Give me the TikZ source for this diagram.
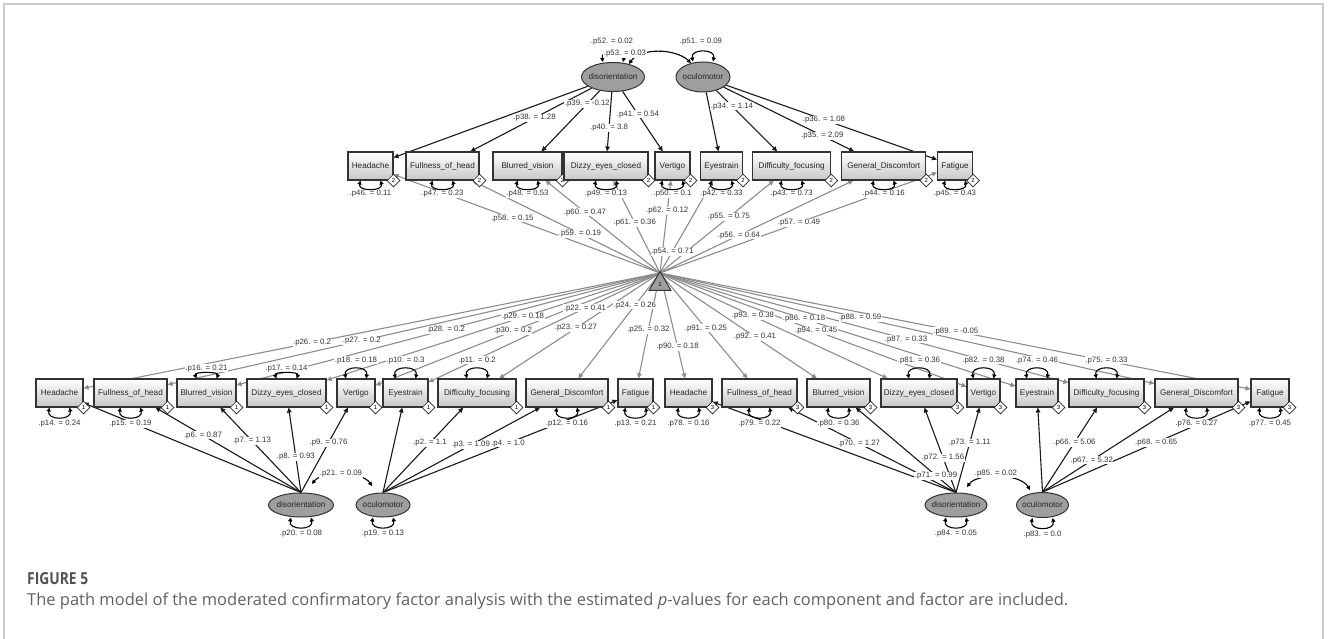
\documentclass[tikz,border=0pt]{standalone}
\usepackage{fontspec}
\usepackage{graphicx}
\setmainfont{Liberation Sans}
\newfontfamily\capfont{Open Sans}
\usetikzlibrary{shapes.geometric,arrows.meta,calc}
\pgfdeclarelayer{bg}
\pgfsetlayers{bg,main}
\newcommand\boxfnt{\fontsize{8.2}{9}\selectfont}
\newcommand\lblfnt{\fontsize{7.8}{9}\selectfont}
\newcommand\dmfnt{\fontsize{6}{7}\selectfont}
\newcommand\obsbox[6]{\node[mbox,minimum width=#4pt] (#1) at (#2,#3) {#5};\node[diam] (#1d) at (#1.south east) {#6};}
\newcommand\loopdn[2]{\draw[varloop] ([xshift=-10pt]#1.south) .. controls +(-3,#2) and +(3,#2) .. ([xshift=10pt]#1.south);}
\newcommand\loopup[2]{\draw[varloop] ([xshift=-10pt]#1.north) .. controls +(-3,-#2) and +(3,-#2) .. ([xshift=10pt]#1.north);}
\tikzset{
  mbox/.style={draw=black!80, line width=1.1pt, top color=white, bottom color=black!22, minimum height=28pt, inner sep=0pt, font=\boxfnt, text=black!85},
  diam/.style={diamond, draw=black!85, fill=white, line width=0.7pt, minimum width=13pt, minimum height=13pt, inner sep=0pt, font=\dmfnt},
  lat/.style={ellipse, draw=black!80, fill=black!38, line width=1pt, inner xsep=-8pt, inner ysep=0pt, font=\boxfnt, text=black!85},
  tri/.style={regular polygon, regular polygon sides=3, draw=black!80, fill=black!38, line width=1pt, inner sep=0pt, minimum size=25pt, font=\dmfnt},
  load/.style={draw=black!90, line width=1.1pt, -{Triangle[length=5pt,width=4.5pt]}},
  icpt/.style={draw=black!45, line width=1.1pt, -{Triangle[length=5pt,width=4.5pt]}},
  varloop/.style={draw=black, line width=1.1pt, {Triangle[length=4pt,width=4pt]}-{Triangle[length=4pt,width=4pt]}},
  lbl/.style={fill=white, inner sep=0.5pt, font=\lblfnt, text=black!80},
  frame/.style={draw=black!20, line width=1.5pt},
}
\begin{document}
\begin{tikzpicture}[x=1pt,y=-1pt]
\useasboundingbox (0,0) rectangle (1328,639);
\draw[frame] (4,639) -- (4,4) -- (1323,4) -- (1323,639);

% observed variables, top group
\obsbox{T1}{370.5}{166}{45}{Headache}{2}
\obsbox{T2}{442.5}{166}{73}{Fullness\_of\_head}{2}
\obsbox{T3}{527.5}{166}{69}{Blurred\_vision}{2}
\obsbox{T4}{606}{166}{84}{Dizzy\_eyes\_closed}{2}
\obsbox{T5}{672.5}{166}{35}{Vertigo}{2}
\obsbox{T6}{721.5}{166}{42}{Eyestrain}{2}
\obsbox{T7}{791.7}{166}{78}{Difficulty\_focusing}{2}
\obsbox{T8}{883.7}{166}{84}{General\_Discomfort}{2}
\obsbox{T9}{955}{166}{35}{Fatigue}{2}
% group 1
\obsbox{A1}{59.5}{393}{47}{Headache}{1}
\obsbox{A2}{130.5}{393}{73}{Fullness\_of\_head}{1}
\obsbox{A3}{206.5}{393}{59}{Blurred\_vision}{1}
\obsbox{A4}{286.5}{393}{79}{Dizzy\_eyes\_closed}{1}
\obsbox{A5}{356}{393}{38}{Vertigo}{1}
\obsbox{A6}{405.5}{393}{45}{Eyestrain}{1}
\obsbox{A7}{477}{393}{78}{Difficulty\_focusing}{1}
\obsbox{A8}{567}{393}{82}{General\_Discomfort}{1}
\obsbox{A9}{635.5}{393}{35}{Fatigue}{1}
% group 3
\obsbox{B1}{688.5}{393}{47}{Headache}{3}
\obsbox{B2}{759.5}{393}{75}{Fullness\_of\_head}{3}
\obsbox{B3}{838.5}{393}{63}{Blurred\_vision}{3}
\obsbox{B4}{919}{393}{76}{Dizzy\_eyes\_closed}{3}
\obsbox{B5}{983.5}{393}{33}{Vertigo}{3}
\obsbox{B6}{1037}{393}{42}{Eyestrain}{3}
\obsbox{B7}{1106.5}{393}{75}{Difficulty\_focusing}{3}
\obsbox{B8}{1196.5}{393}{83}{General\_Discomfort}{3}
\obsbox{B9}{1270}{393}{38}{Fatigue}{3}

% latent variables
\node[lat, minimum width=63pt, minimum height=29pt] (TD) at (613,77) {disorientation};
\node[lat, minimum width=54pt, minimum height=30pt] (TO) at (703,77) {oculomotor};
\node[lat, minimum width=65pt, minimum height=24pt] (D1) at (301,505) {disorientation};
\node[lat, minimum width=54pt, minimum height=24pt] (O1) at (383,505) {oculomotor};
\node[lat, minimum width=62pt, minimum height=24pt] (D3) at (956,505) {disorientation};
\node[lat, minimum width=52pt, minimum height=25pt] (O3) at (1042.5,505) {oculomotor};

% intercept triangle
\coordinate (S) at (660,273);
\node[tri] (TR) at (660,284) {1};

\begin{pgfonlayer}{bg}
\foreach \i in {1,...,9}{\draw[icpt] (S) -- (T\i); \draw[icpt] (S) -- (A\i); \draw[icpt] (S) -- (B\i);}
\foreach \i in {1,...,5}{\draw[load] (TD) -- (T\i); \draw[load] (D1.north) -- (A\i); \draw[load] (D3.north) -- (B\i);}
\foreach \i in {6,...,9}{\draw[load] (TO) -- (T\i); \draw[load] (O1.north) -- (A\i); \draw[load] (O3.north) -- (B\i);}
\end{pgfonlayer}

% covariances and latent variances
\coordinate (c0a) at (629,64); \coordinate (c0b) at (691,63);
\draw[varloop] (c0a) .. controls (640,48) and (675,48) .. (c0b);
\coordinate (c1a) at (312,484); \coordinate (c1b) at (372,486);
\draw[varloop] (c1a) .. controls (322,471) and (362,471) .. (c1b);
\coordinate (c3a) at (967,487); \coordinate (c3b) at (1030,490);
\draw[varloop] (c3a) .. controls (977,473) and (1020,473) .. (c3b);
\loopup{TD}{13} \loopup{TO}{13}
\loopdn{D1}{13} \loopdn{O1}{13} \loopdn{D3}{13} \loopdn{O3}{13}

% latent labels
\node[lbl] (l52) at (612,42) {.p52. = 0.02};
\node[lbl] (l53) at (625,54) {.p53. = 0.03};
\node[lbl] (l51) at (701,42) {.p51. = 0.09};
\node[lbl] (l20) at ([yshift=-16pt]D1.south) {.p20. = 0.08};
\node[lbl] (l19) at ([yshift=-16pt]O1.south) {.p19. = 0.13};
\node[lbl] (l21) at (341,474) {.p21. = 0.09};
\node[lbl] (l84) at ([yshift=-16pt]D3.south) {.p84. = 0.05};
\node[lbl] (l83) at ([yshift=-17pt]O3.south) {.p83. = 0.0};
\node[lbl] (l85) at (996,474) {.p85. = 0.02};

% top loadings
\node[lbl] (l38) at ($(TD.center)!0.46!(T2.center)$) {.p38. = 1.28};
\node[lbl] (l39) at ($(TD.center)!0.3!(T3.center)$) {.p39. = -0.12};
\node[lbl] (l40) at ($(TD.center)!0.573!(T4.center)$) {.p40. = 3.8};
\node[lbl] (l41) at ($(TD.center)!0.42!(T5.center)$) {.p41. = 0.54};
\node[lbl] (l34) at ($(TO.center)!0.327!(T7.center)$) {.p34. = 1.14};
\node[lbl] (l35) at ($(TO.center)!0.66!(T8.center)$) {.p35. = 2.09};
\node[lbl] (l36) at ($(TO.center)!0.48!(T9.center)$) {.p36. = 1.08};
% top intercepts
\node[lbl] (l58) at ($(S)!0.51!(T1.center)$) {.p58. = 0.15};
\node[lbl] (l59) at ($(S)!0.368!(T2.center)$) {.p59. = 0.19};
\node[lbl] (l60) at ($(S)!0.566!(T3.center)$) {.p60. = 0.47};
\node[lbl] (l61) at ($(S)!0.467!(T4.center)$) {.p61. = 0.36};
\node[lbl] (l62) at ($(S)!0.58!(T5.center)$) {.p62. = 0.12};
\node[lbl] (l54) at ($(S)!0.2!(T6.center)$) {.p54. = 0.71};
\node[lbl] (l55) at ($(S)!0.524!(T7.center)$) {.p55. = 0.75};
\node[lbl] (l56) at ($(S)!0.353!(T8.center)$) {.p56. = 0.64};
\node[lbl] (l57) at ($(S)!0.471!(T9.center)$) {.p57. = 0.49};
% group 1 intercepts
\node[lbl] (l26) at ($(S)!0.5795!(A1.center)$) {.p26. = 0.2};
\node[lbl] (l27) at ($(S)!0.563!(A2.center)$) {.p27. = 0.2};
\node[lbl] (l28) at ($(S)!0.472!(A3.center)$) {.p28. = 0.2};
\node[lbl] (l29) at ($(S)!0.367!(A4.center)$) {.p29. = 0.18};
\node[lbl] (l30) at ($(S)!0.4836!(A5.center)$) {.p30. = 0.2};
\node[lbl] (l22) at ($(S)!0.295!(A6.center)$) {.p22. = 0.41};
\node[lbl] (l23) at ($(S)!0.459!(A7.center)$) {.p23. = 0.27};
\node[lbl] (l24) at ($(S)!0.269!(A8.center)$) {.p24. = 0.26};
\node[lbl] (l25) at ($(S)!0.475!(A9.center)$) {.p25. = 0.32};
% group 3 intercepts
\node[lbl] (l90) at ($(S)!0.617!(B1.center)$) {.p90. = 0.18};
\node[lbl] (l91) at ($(S)!0.462!(B2.center)$) {.p91. = 0.25};
\node[lbl] (l92) at ($(S)!0.532!(B3.center)$) {.p92. = 0.41};
\node[lbl] (l93) at ($(S)!0.359!(B4.center)$) {.p93. = 0.38};
\node[lbl] (l94) at ($(S)!0.483!(B5.center)$) {.p94. = 0.45};
\node[lbl] (l86) at ($(S)!0.382!(B6.center)$) {.p86. = 0.18};
\node[lbl] (l87) at ($(S)!0.551!(B7.center)$) {.p87. = 0.33};
\node[lbl] (l88) at ($(S)!0.373!(B8.center)$) {.p88. = 0.59};
\node[lbl] (l89) at ($(S)!0.485!(B9.center)$) {.p89. = -0.05};
% group 1 loadings
\node[lbl] (l6) at ($(D1.north)!0.575!(A2.center)$) {.p6. = 0.87};
\node[lbl] (l7) at ($(D1.north)!0.519!(A3.center)$) {.p7. = 1.13};
\node[lbl] (l8) at ($(D1.north)!0.36!(A4.center)$) {.p8. = 0.93};
\node[lbl] (l9) at ($(D1.north)!0.5!(A5.center)$) {.p9. = 0.76};
\node[lbl] (l2) at ($(O1.north)!0.5!(A7.center)$) {.p2. = 1.1};
\node[lbl] (l3) at ($(O1.north)!0.478!(A8.center)$) {.p3. = 1.09};
\node[lbl] (l4) at ($(O1.north)!0.495!(A9.center)$) {.p4. = 1.0};
% group 3 loadings
\node[lbl] (l70) at ($(D3.north)!0.494!(B2.center)$) {.p70. = 1.27};
\node[lbl] (l71) at ($(D3.north)!0.17!(B3.center)$) {.p71. = 0.99};
\node[lbl] (l72) at ($(D3.north)!0.35!(B4.center)$) {.p72. = 1.56};
\node[lbl] (l73) at ($(D3.north)!0.5!(B5.center)$) {.p73. = 1.11};
\node[lbl] (l66) at ($(O3.north)!0.5!(B7.center)$) {.p66. = 5.06};
\node[lbl] (l67) at ($(O3.north)!0.32!(B8.center)$) {.p67. = 5.32};
\node[lbl] (l68) at ($(O3.north)!0.5!(B9.center)$) {.p68. = 0.65};

% residual variance labels
\node[lbl] (l46) at ([yshift=-13pt]T1.south) {.p46. = 0.11};
\node[lbl] (l47) at ([yshift=-13pt]T2.south) {.p47. = 0.23};
\node[lbl] (l48) at ([yshift=-13pt]T3.south) {.p48. = 0.53};
\node[lbl] (l49) at ([yshift=-13pt]T4.south) {.p49. = 0.13};
\node[lbl] (l50) at ([yshift=-13pt]T5.south) {.p50. = 0.1};
\node[lbl] (l42) at ([yshift=-13pt]T6.south) {.p42. = 0.33};
\node[lbl] (l43) at ([yshift=-13pt]T7.south) {.p43. = 0.73};
\node[lbl] (l44) at ([yshift=-13pt]T8.south) {.p44. = 0.16};
\node[lbl] (l45) at ([yshift=-13pt]T9.south) {.p45. = 0.43};
\node[lbl] (l14) at ([yshift=-16pt]A1.south) {.p14. = 0.24};
\node[lbl] (l15) at ([yshift=-16pt]A2.south) {.p15. = 0.19};
\node[lbl] (l16) at ([yshift=10pt]A3.north) {.p16. = 0.21};
\node[lbl] (l17) at ([yshift=10pt]A4.north) {.p17. = 0.14};
\node[lbl] (l18) at ([yshift=18pt]A5.north) {.p18. = 0.18};
\node[lbl] (l10) at ([yshift=18pt]A6.north) {.p10. = 0.3};
\node[lbl] (l11) at ([yshift=18pt]A7.north) {.p11. = 0.2};
\node[lbl] (l12) at ([yshift=-16pt]A8.south) {.p12. = 0.16};
\node[lbl] (l13) at ([yshift=-16pt]A9.south) {.p13. = 0.21};
\node[lbl] (l78) at ([yshift=-16pt]B1.south) {.p78. = 0.16};
\node[lbl] (l79) at ([yshift=-16pt]B2.south) {.p79. = 0.22};
\node[lbl] (l80) at ([yshift=-16pt]B3.south) {.p80. = 0.36};
\node[lbl] (l81) at ([yshift=18pt]B4.north) {.p81. = 0.36};
\node[lbl] (l82) at ([yshift=18pt]B5.north) {.p82. = 0.38};
\node[lbl] (l74) at ([yshift=18pt]B6.north) {.p74. = 0.46};
\node[lbl] (l75) at ([yshift=18pt]B7.north) {.p75. = 0.33};
\node[lbl] (l76) at ([yshift=-16pt]B8.south) {.p76. = 0.27};
\node[lbl] (l77) at ([yshift=-16pt]B9.south) {.p77. = 0.45};

% residual variance loops
\foreach \i in {1,...,9}{\loopdn{T\i}{11}}
\loopdn{A1}{13} \loopdn{A2}{13} \loopup{A3}{7} \loopup{A4}{7} \loopup{A5}{13}
\loopup{A6}{13} \loopup{A7}{13} \loopdn{A8}{13} \loopdn{A9}{13}
\loopdn{B1}{13} \loopdn{B2}{13} \loopdn{B3}{13} \loopup{B4}{13} \loopup{B5}{13}
\loopup{B6}{13} \loopup{B7}{13} \loopdn{B8}{13} \loopdn{B9}{13}

% caption
\node[anchor=base west, inner sep=0pt, text=black!68] (fig) at (27,584) {\resizebox{61pt}{12pt}{\capfont\bfseries FIGURE 5}};
\node[anchor=base west, inner sep=0pt, text=black!62] (cap) at (27,605.5) {\resizebox{1041pt}{!}{\capfont The path model of the moderated confirmatory factor analysis with the estimated \textit{p}-values for each component and factor are included.}};
\end{tikzpicture}
\end{document}
